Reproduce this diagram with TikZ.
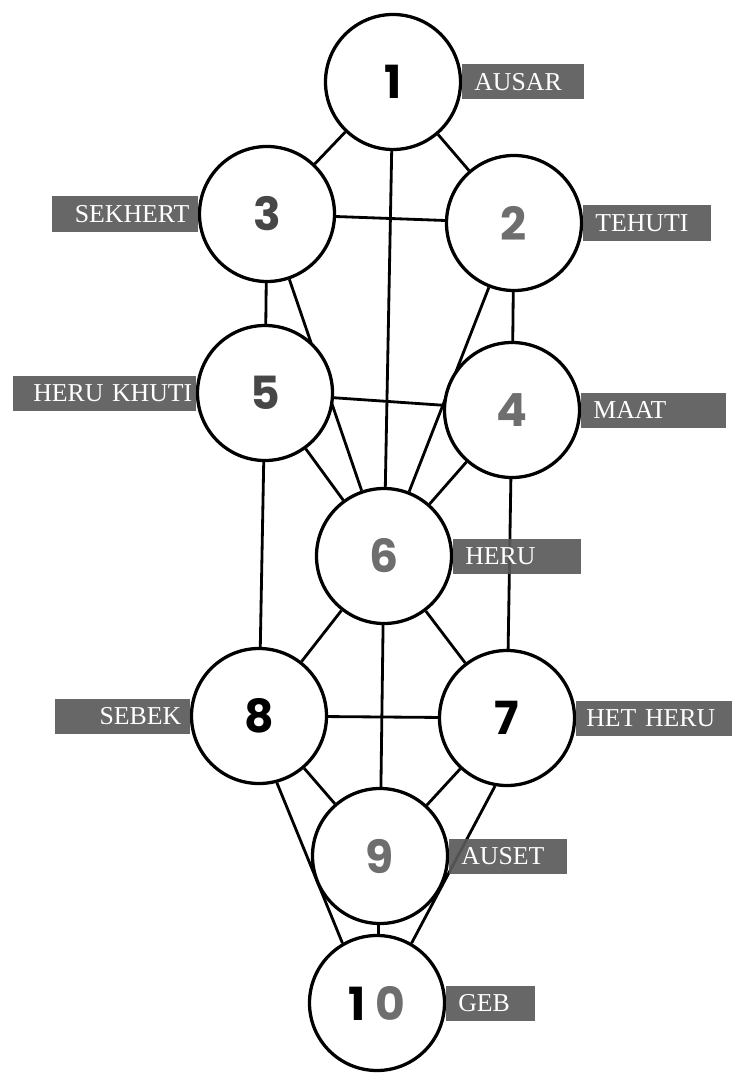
\documentclass[tikz,border=0pt]{standalone}
\usepackage{fontspec}
\setmainfont{Liberation Serif}
\newfontfamily\numfont{Poppins}
\usetikzlibrary{positioning,backgrounds}
\definecolor{tagfill}{HTML}{5A5A5A}
\definecolor{numgray}{HTML}{6E6E6E}
\definecolor{numdark}{HTML}{474747}
\tikzset{
    x=0.03cm,
    y=-0.03cm,
    sephira/.style = {
        draw,
        shape=circle,
        fill=white,
        minimum size=4.05cm,
        inner sep=0pt,
        line width=2.8pt,
        font=\numfont\bfseries\fontsize{39}{39}\selectfont
    },
    channel/.style = {
        draw,
        line width=2.4pt
    },
    tag/.style = {
        fill=tagfill,
        fill opacity=0.92,
        text opacity=1,
        text=white,
        font=\fontsize{22}{22}\selectfont,
        minimum height=1.05cm
    },
    tagR/.style = {
        tag,
        inner xsep=0.36cm,
        align=left,
        right=0cm of #1
    },
    tagL/.style = {
        tag,
        inner xsep=0.25cm,
        align=right,
        left=0cm of #1
    },
}

\begin{document}
\begin{tikzpicture}
            \useasboundingbox (0,0) rectangle (737,1076);

            \node[sephira] (one) at (393,82) {1};
            \node[sephira, text=numgray] (two) at (514,223) {2};
            \node[sephira, text=numdark] (three) at (267,214) {3};
            \node[sephira, text=numgray] (four) at (512,410) {4};
            \node[sephira, text=numdark] (five) at (265,393) {5};
            \node[sephira, text=numgray] (six) at (384,556) {6};
            \node[sephira] (seven) at (507,718) {7};
            \node[sephira] (eight) at (259,716) {8};
            \node[sephira, text=numgray] (nine) at (380,856) {9};
            \node[sephira] (ten) at (377,1003) {1\hspace{9pt}{\color{numgray}0}};

            \begin{scope}[on background layer]
            \path[channel] (one) -- (three);
            \path[channel] (one) -- (two);
            \path[channel] (one) -- (six);
            \path[channel] (three) -- (two);
            \path[channel] (three) -- (five);
            \path[channel] (three) -- (six);
            \path[channel] (two) -- (four);
            \path[channel] (two) -- (six);
            \path[channel] (five) -- (four);
            \path[channel] (five) -- (six);
            \path[channel] (four) -- (six);
            \path[channel] (five) -- (eight);
            \path[channel] (four) -- (seven);
            \path[channel] (six) -- (eight);
            \path[channel] (six) -- (seven);
            \path[channel] (six) -- (nine);
            \path[channel] (eight) -- (seven);
            \path[channel] (eight) -- (nine);
            \path[channel] (seven) -- (nine);
            \path[channel] (eight.285) -- (ten.120);
            \path[channel] (seven.260) -- (ten.60);
            \path[channel] (nine) -- (ten);
            \end{scope}

            \node[tagR=one, text width=2.94cm] (ausar) {AUSAR};
            \node[tagL=three, text width=3.88cm] (sekhert) {SEKHERT};
            \node[tagR=two, text width=3.12cm] (tehuti) {TEHUTI};
            \node[tagL=five, text width=5.28cm, inner xsep=0.1cm] (heruk) {HERU KHUTI};
            \node[tagR=four, text width=3.63cm] (maat) {MAAT};
            \node[tagR=six, text width=3.12cm] (heru) {HERU};
            \node[tagL=eight, text width=3.55cm] (sebek) {SEBEK};
            \node[tagR=seven, text width=4.08cm, inner xsep=0.3cm] (hetheru) {HET HERU};
            \node[tagR=nine, text width=2.82cm] (auset) {AUSET};
            \node[tagR=ten, text width=1.95cm] (geb) {GEB};

        \end{tikzpicture}
\end{document}
